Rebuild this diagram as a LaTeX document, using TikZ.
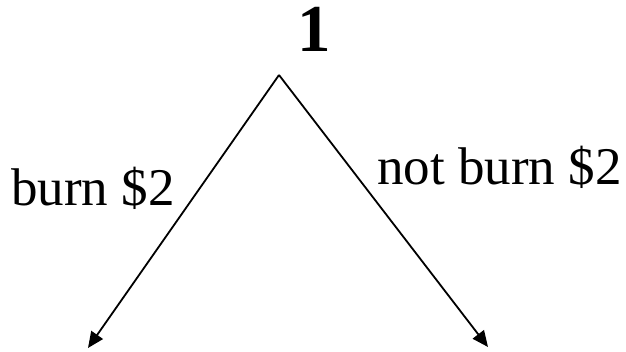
\documentclass[tikz,border=0pt]{standalone}
\usepackage{fontspec}
\setmainfont{Liberation Serif}
\usetikzlibrary{arrows.meta,positioning}

\begin{document}
\begin{tikzpicture}[
  x=1pt, y=1pt,
  player/.style={font=\fontsize{67}{67}\selectfont\bfseries, inner sep=0pt},
  move/.style={font=\fontsize{53}{53}\selectfont, inner sep=0pt, anchor=base west},
  arrow/.style={-{Triangle[length=16pt, width=14pt]}, line width=1.8pt}
]
\useasboundingbox (0,0) rectangle (626,351);

% decision node
\coordinate (root) at (279, 276);
\node[player] (p1) at (314, 322) {1};

% branch ends
\coordinate (burn) at (88, 3);
\coordinate (notburn) at (488, 4);

\draw[arrow] (root) -- (burn);
\draw[arrow] (root) -- (notburn);

\node[move] (lburn) at (11, 146) {burn \$2};
\node[move] (lnotburn) at (377, 166) {not burn \$2};
\end{tikzpicture}
\end{document}
